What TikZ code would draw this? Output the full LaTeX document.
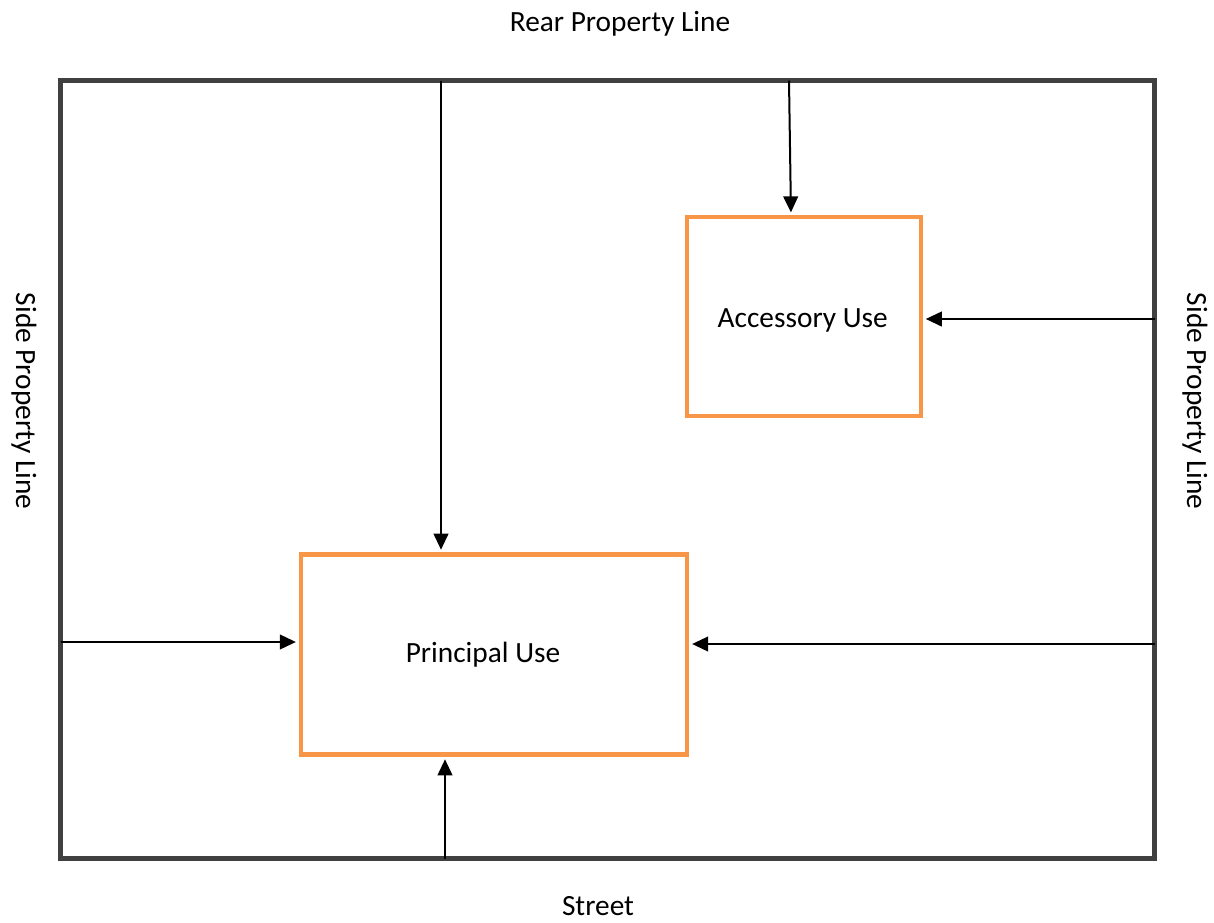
\documentclass[tikz,border=0pt]{standalone}
\usepackage{fontspec}
\setmainfont{Carlito}
\usepackage{tikz}
\usetikzlibrary{positioning}
\usetikzlibrary{arrows.meta}
\definecolor{lotgray}{RGB}{64,64,64}
\definecolor{useorange}{RGB}{247,150,70}
\tikzstyle{arrow} = [line width=1.5pt,-{Triangle[width=11pt,length=12pt]},shorten >=2pt]
\tikzstyle{usebox} = [draw=useorange,line width=3.2pt,rectangle]
\tikzstyle{lotline} = [draw=lotgray,line width=3.4pt,rectangle,outer sep=0pt]

\begin{document}
\begin{tikzpicture}[x=0.75pt,y=-0.75pt,font=\fontsize{22}{26}\selectfont]
					\useasboundingbox (0,0) rectangle (1214,922);

					% the lot
					\node[lotline, minimum width=820.5pt, minimum height=583.5pt] (lot) at (607.5,469.5) {};

					% uses
					\node[usebox, minimum width=290pt, minimum height=150pt] (principal) at (494,654.5) {Principal Use\hspace*{16.5pt}};
					\node[usebox, minimum width=175.5pt, minimum height=149pt, text height=19.5pt] (accessory) at (804,316.5) {Accessory Use\hspace*{2pt}};

					% property lines
					\node (rear) at (620,24) {Rear Property Line};
					\node[inner sep=0pt] (street) at (598,906) {Street};
					\node[rotate=-90] (sideleft) at (24,401) {Side Property Line};
					\node[rotate=-90] (sideright) at (1195,401) {Side Property Line};

					% points on the lot line
					\coordinate (rearA) at (441,80.5);
					\coordinate (rearB) at (789,80.5);
					\coordinate (tipB) at (791,300);
					\coordinate (rightA) at (1154.5,319);
					\coordinate (rightB) at (1154.5,644);
					\coordinate (leftA) at (60.5,642);
					\coordinate (front) at (445,858.5);

					%arrows
					\draw[arrow] (rearA) -- (rearA |- principal.north);
					\draw[arrow] (rearB) -- (tipB |- accessory.north);
					\draw[arrow] (rightA) -- (accessory.east |- rightA);
					\draw[arrow] (rightB) -- (principal.east |- rightB);
					\draw[arrow] (leftA) -- (principal.west |- leftA);
					\draw[arrow] (front) -- (front |- principal.south);
				\end{tikzpicture}
\end{document}
